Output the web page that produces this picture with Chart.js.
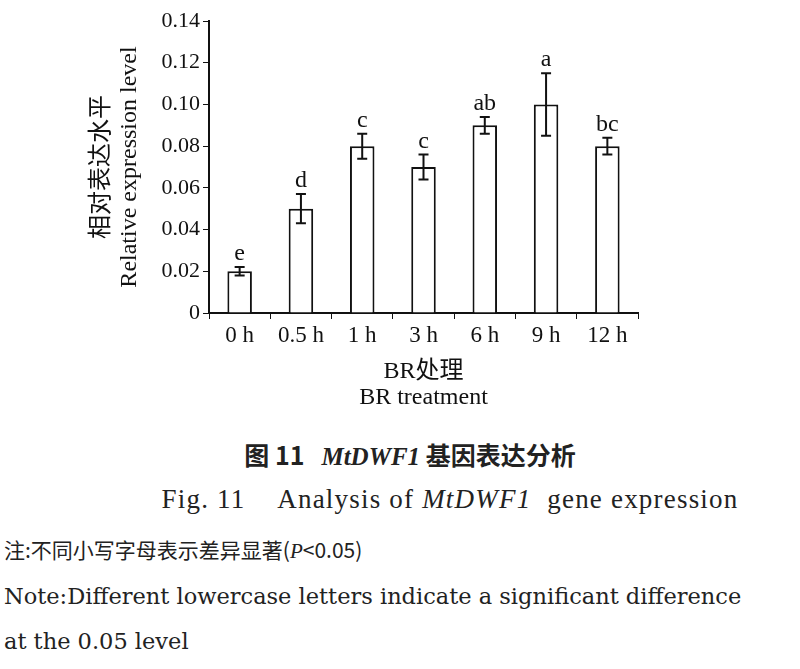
<!DOCTYPE html>
<html><head><meta charset="utf-8">
<script src="https://cdn.jsdelivr.net/npm/chart.js@4"></script>
<style>
body{margin:0;background:#fff;width:800px;height:669px;position:relative;overflow:hidden;font-family:'Liberation Serif','Noto Sans CJK SC',serif;color:#222}
#wrap{position:absolute;left:0;top:0;width:800px;height:415px}
.t{position:absolute;white-space:nowrap}
</style></head><body>
<div id="wrap"><canvas id="c"></canvas></div>
<div class="t" style="top:436px;left:0;width:820px;text-align:center;font-size:25px;font-weight:bold;font-family:'Noto Sans CJK SC'">图 11&nbsp;&nbsp;&nbsp;<i style="font-family:'Liberation Serif'">MtDWF1</i> 基因表达分析</div>
<div class="t" style="top:484px;left:0;width:900px;text-align:center;font-size:27px;letter-spacing:1.2px">Fig. 11&nbsp;&nbsp;&nbsp;&nbsp;Analysis of <i>MtDWF1</i>&nbsp; gene expression</div>
<div class="t" style="top:534px;left:4px;font-size:21px;font-family:'Noto Sans CJK SC'">注:不同小写字母表示差异显著(<i style="font-family:'Liberation Serif'">P</i>&lt;0.05)</div>
<div class="t" style="top:583px;left:4px;font-size:22.5px;font-family:'DejaVu Serif'">Note:Different lowercase letters indicate a significant difference</div>
<div class="t" style="top:628px;left:4px;font-size:22.5px;font-family:'DejaVu Serif'">at the 0.05 level</div>
<script>
const categories = ['0 h', '0.5 h', '1 h', '3 h', '6 h', '9 h', '12 h'];
const values = [0.020, 0.050, 0.080, 0.070, 0.090, 0.100, 0.080];
const errors = [0.002, 0.007, 0.006, 0.006, 0.004, 0.015, 0.004];
const letters = ['e', 'd', 'c', 'c', 'ab', 'a', 'bc'];

const errPlugin = {
  id: 'err',
  afterDatasetsDraw(chart) {
    const ctx = chart.ctx, y = chart.scales.y;
    const meta = chart.getDatasetMeta(0);
    ctx.save();
    ctx.strokeStyle = '#111'; ctx.lineWidth = 2;
    ctx.fillStyle = '#111';
    ctx.font = '24px "Liberation Serif"';
    ctx.textAlign = 'center'; ctx.textBaseline = 'bottom';
    meta.data.forEach((bar, i) => {
      const x = bar.x;
      const top = y.getPixelForValue(values[i] + errors[i]);
      const bot = y.getPixelForValue(values[i] - errors[i]);
      ctx.beginPath();
      ctx.moveTo(x, top); ctx.lineTo(x, bot);
      ctx.moveTo(x - 5, top); ctx.lineTo(x + 5, top);
      ctx.moveTo(x - 5, bot); ctx.lineTo(x + 5, bot);
      ctx.stroke();
      ctx.fillText(letters[i], x, top - 1);
    });
    ctx.restore();
  }
};

new Chart(document.getElementById('c'), {
  type: 'bar',
  data: { labels: categories, datasets: [{ data: values, backgroundColor: '#fff', borderColor: '#111', borderWidth: 2, barPercentage: 0.4, categoryPercentage: 1 }] },
  options: {
    responsive: true, maintainAspectRatio: false, animation: false,
    layout: { padding: { top: 21, right: 162, left: 84 } },
    plugins: { legend: { display: false }, tooltip: { enabled: false } },
    scales: {
      x: {
        afterFit: s => { s.height = 102; },
        grid: { drawOnChartArea: false, tickLength: 6, color: '#111' },
        border: { color: '#111', width: 2 },
        ticks: { color: '#111', font: { family: 'Liberation Serif', size: 23 } },
        title: { display: true, text: ['BR处理', 'BR treatment'], color: '#111', padding: { top: 2 }, font: { family: "'Liberation Serif','Noto Sans CJK SC'", size: 24, lineHeight: 1.1 } }
      },
      y: {
        min: 0, max: 0.14,
        afterFit: s => { s.width = 125; },
        grid: { drawOnChartArea: false, tickLength: 6, color: '#111' },
        border: { color: '#111', width: 2 },
        ticks: { stepSize: 0.02, color: '#111', callback: v => v === 0 ? '0' : v.toFixed(2), font: { family: 'Liberation Serif', size: 22 } },
        title: { display: true, text: ['相对表达水平', 'Relative expression level'], color: '#111', padding: { bottom: 0 }, font: { family: "'Liberation Serif','Noto Sans CJK SC'", size: 24, lineHeight: 1.15 } }
      }
    }
  },
  plugins: [errPlugin]
});
</script>
</body></html>
